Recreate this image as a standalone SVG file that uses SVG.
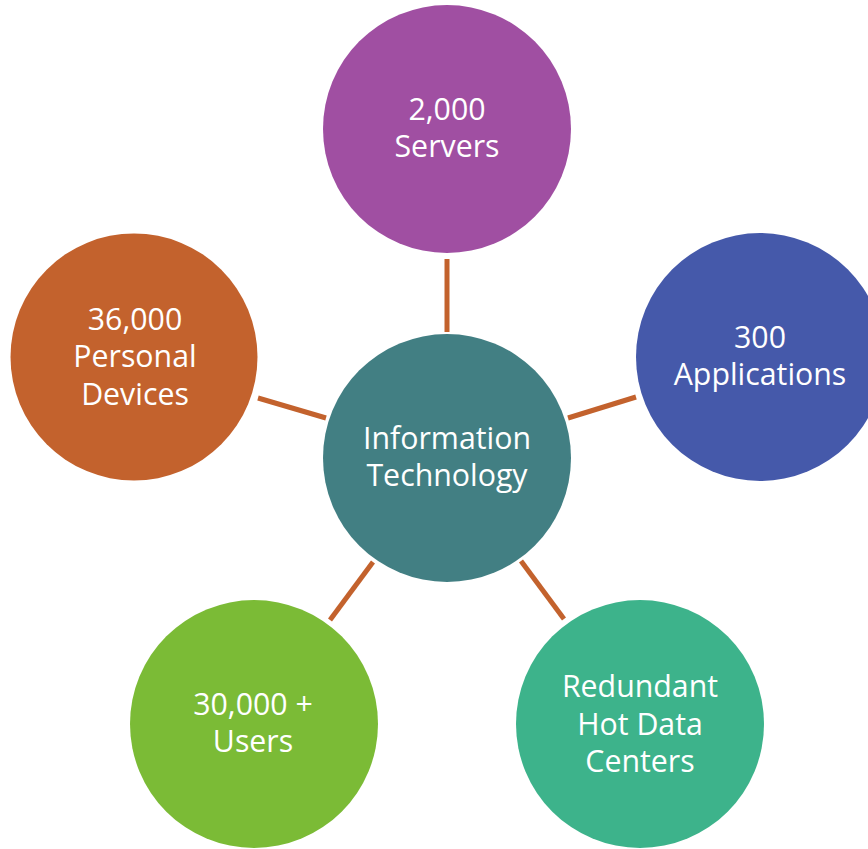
<svg xmlns="http://www.w3.org/2000/svg" width="868" height="849" viewBox="0 0 868 849">
<style>
.lbl{font-family:"Open Sans","Noto Sans","Liberation Sans",sans-serif;font-size:30.3px;fill:#ffffff;text-anchor:middle}
.con line{stroke:#C3622D;stroke-width:5}
</style>
<rect width="868" height="849" fill="#ffffff"/>
<g class="con" id="connectors">
<line x1="447" y1="259" x2="447" y2="332"/>
<line x1="568" y1="418" x2="636" y2="397"/>
<line x1="258" y1="398" x2="326" y2="418"/>
<line x1="373" y1="562" x2="330" y2="620"/>
<line x1="521" y1="561" x2="564" y2="619"/>
</g>
<g id="center">
<circle cx="447" cy="458" r="124" fill="#427F83"/>
<text class="lbl" x="447" y="449">Information</text>
<text class="lbl" x="447" y="486">Technology</text>
</g>
<g id="servers">
<circle cx="447" cy="129" r="124" fill="#A04FA2"/>
<text class="lbl" x="447" y="120">2,000</text>
<text class="lbl" x="447" y="157">Servers</text>
</g>
<g id="applications">
<circle cx="760" cy="357" r="124" fill="#4559AA"/>
<text class="lbl" x="760" y="348">300</text>
<text class="lbl" x="760" y="385">Applications</text>
</g>
<g id="devices">
<circle cx="134" cy="357" r="123.5" fill="#C3622D"/>
<text class="lbl" x="135" y="330">36,000</text>
<text class="lbl" x="135" y="367">Personal</text>
<text class="lbl" x="135" y="405">Devices</text>
</g>
<g id="users">
<circle cx="254" cy="724" r="124" fill="#7BBB36"/>
<text class="lbl" x="253" y="715">30,000 +</text>
<text class="lbl" x="253" y="752">Users</text>
</g>
<g id="datacenters">
<circle cx="640" cy="724" r="124" fill="#3DB38B"/>
<text class="lbl" x="640" y="697">Redundant</text>
<text class="lbl" x="640" y="735">Hot Data</text>
<text class="lbl" x="640" y="772">Centers</text>
</g>
</svg>
